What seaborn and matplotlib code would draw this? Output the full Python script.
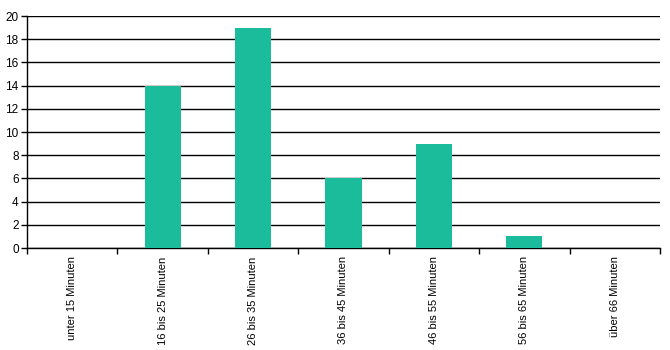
import matplotlib
matplotlib.use("Agg")
import matplotlib.pyplot as plt
import seaborn as sns
import pandas as pd
import numpy as np

categories = ["unter 15 Minuten", "16 bis 25 Minuten", "26 bis 35 Minuten",
              "36 bis 45 Minuten", "46 bis 55 Minuten", "56 bis 65 Minuten",
              "über 66 Minuten"]
values = [0, 14, 19, 6, 9, 1, 0]
yticks = list(range(0, 21, 2))

sns.set_theme(style="white")
plt.rcParams['font.family'] = ['Liberation Sans', 'DejaVu Sans']

df = pd.DataFrame({"cat": categories, "val": values})

fig = plt.figure(figsize=(6.7, 3.5), dpi=100)
ax = fig.add_axes([0.0403, 0.2914, 0.9447, 0.6626])
sns.barplot(data=df, x="cat", y="val", color="#1ABC9C", width=0.4,
            saturation=1, ax=ax, zorder=3, linewidth=0, edgecolor="none")
ax.set_ylim(0, 20)
ax.set_xlim(-0.5, len(categories) - 0.5)
ax.set_yticks(yticks)
ax.set_yticklabels([str(t) for t in yticks], fontsize=8.5, color="black")
ax.yaxis.grid(True, color="black", linewidth=1)
ax.set_axisbelow(True)
ax.set_xlabel("")
ax.set_ylabel("")
ax.set_xticks(range(len(categories)))
ax.set_xticklabels(categories, rotation=90, fontsize=8, va="top", color="black")
ax.set_xticks(np.arange(-0.5, len(categories)), minor=True)
ax.tick_params(axis="x", which="major", length=0, pad=6)
ax.tick_params(axis="x", which="minor", length=4, width=1, color="black", direction="out", bottom=True)
ax.tick_params(axis="y", length=4, width=1, color="black", direction="out", left=True, pad=2)
for s in ["top", "right"]:
    ax.spines[s].set_visible(False)
for s in ["left", "bottom"]:
    ax.spines[s].set_color("black")
    ax.spines[s].set_linewidth(1)
fig.patch.set_facecolor("white")
fig.savefig("out.png", dpi=100)
